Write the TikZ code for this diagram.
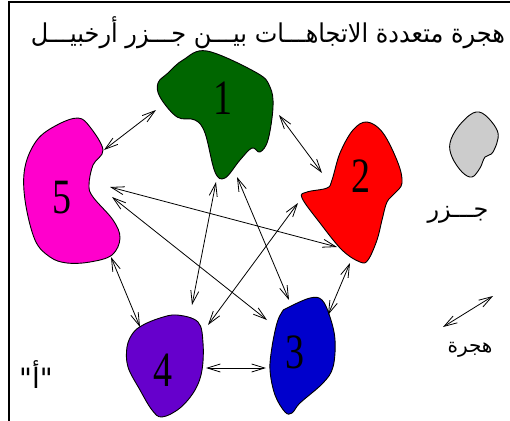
\documentclass[tikz,border=0pt]{standalone}
\usepackage{fontspec}
\usepackage{xcolor}
\usepackage{tikz}
\usetikzlibrary{arrows.meta}
\newfontfamily\arabicfont[Script=Arabic]{DejaVu Sans}
\newfontfamily\numfont{Liberation Serif}
\TeXXeTstate=1

\definecolor{isle1}{HTML}{006600}
\definecolor{isle2}{HTML}{FF0000}
\definecolor{isle3}{HTML}{0000CC}
\definecolor{isle4}{HTML}{6600CC}
\definecolor{isle5}{HTML}{FF00CC}
\definecolor{islegrey}{HTML}{CCCCCC}

\begin{document}
\begin{tikzpicture}[x=1pt,y=-1pt,
    island/.style={draw,line width=0.9pt},
    num/.style={font=\numfont\fontsize{38}{38}\selectfont,yscale=1.3,inner sep=0pt},
    migr/.style={{Straight Barb[length=13pt,width=8pt]}-{Straight Barb[length=13pt,width=8pt]},line width=0.8pt},
    arab/.style={font=\arabicfont\fontsize{#1}{#1}\selectfont,inner sep=0pt,anchor=base}]
    \useasboundingbox (0,0) rectangle (510,420);
    \draw[line width=1.2pt] (9,425) -- (9,2) -- (515,2);
    % islands
    \draw[island,fill=isle1] plot[smooth cycle,tension=0.6] coordinates {(183,60) (207,51) (257,73) (270,87) (273,107) (268,140) (260,152) (252,148) (240,160) (225,178) (215,172) (205,133) (195,120) (177,117) (160,97) (158,83) (168,73)};
    \draw[island,fill=isle5] plot[smooth cycle,tension=0.6] coordinates {(78,118) (90,127) (103,150) (93,165) (89,185) (93,197) (113,220) (120,238) (112,255) (90,262) (67,263) (50,257) (35,240) (25,200) (25,167) (37,140) (57,125)};
    \draw[island,fill=isle2] plot[smooth cycle,tension=0.6] coordinates {(367,122) (383,133) (398,163) (402,183) (395,193) (387,202) (382,220) (377,240) (368,260) (360,262) (342,250) (320,223) (302,198) (307,192) (327,188) (332,180) (340,153) (353,130)};
    \draw[island,fill=isle3] plot[smooth cycle,tension=0.6] coordinates {(282,312) (287,308) (310,298) (322,300) (330,317) (335,340) (333,367) (323,383) (300,403) (292,413) (285,412) (275,395) (270,370) (272,347) (277,323)};
    \draw[island,fill=isle4] plot[smooth cycle,tension=0.6] coordinates {(177,315) (198,322) (203,343) (202,370) (195,390) (180,408) (162,417) (152,410) (140,390) (128,367) (127,347) (133,333) (143,325) (160,318)};
    \draw[island,fill=islegrey] plot[smooth cycle,tension=0.6] coordinates {(473,113) (485,115) (498,133) (493,152) (485,157) (480,168) (472,177) (462,172) (452,157) (450,143) (458,127)};
    % labels
    \node[num] (n1) at (223,98) {1};
    \node[num] (n2) at (361,176) {2};
    \node[num] (n3) at (295,352) {3};
    \node[num] (n4) at (163,370) {4};
    \node[num] (n5) at (62,198) {5};
    \node[arab=24,yscale=1.08] (title) at (268,42) {\beginR هجرة متعددة الاتجاهـــات بيـــن جـــزر أرخبيـــل\endR};
    \node[arab=24] (isles) at (458,217) {\beginR جـــزر\endR};
    \node[arab=20] (move) at (470,352) {\beginR هجرة\endR};
    \node[arab=28] (part) at (36,388) {\beginR "أ"\endR};
    % ends of the arrows
    \coordinate (e51) at (104,150); \coordinate (e15) at (156,110);
    \coordinate (e12) at (279,115); \coordinate (e21) at (322,173);
    \coordinate (e52) at (110,187); \coordinate (e25) at (337,247);
    \coordinate (e53) at (112,197); \coordinate (e35) at (267,320);
    \coordinate (e14) at (216,182); \coordinate (e41) at (192,305);
    \coordinate (e13) at (237,177); \coordinate (e31) at (289,300);
    \coordinate (e24) at (298,203); \coordinate (e42) at (208,325);
    \coordinate (e54) at (111,257); \coordinate (e45) at (140,327);
    \coordinate (e23) at (350,263); \coordinate (e32) at (328,315);
    \coordinate (e43) at (206,368); \coordinate (e34) at (266,368);
    \coordinate (k1) at (443,327); \coordinate (k2) at (493,296);
    \draw[migr] (e51) -- (e15);
    \draw[migr] (e12) -- (e21);
    \draw[migr] (e52) -- (e25);
    \draw[migr] (e53) -- (e35);
    \draw[migr] (e14) -- (e41);
    \draw[migr] (e13) -- (e31);
    \draw[migr] (e24) -- (e42);
    \draw[migr] (e54) -- (e45);
    \draw[migr] (e23) -- (e32);
    \draw[migr] (e43) -- (e34);
    \draw[migr] (k1) -- (k2);
\end{tikzpicture}
\end{document}
